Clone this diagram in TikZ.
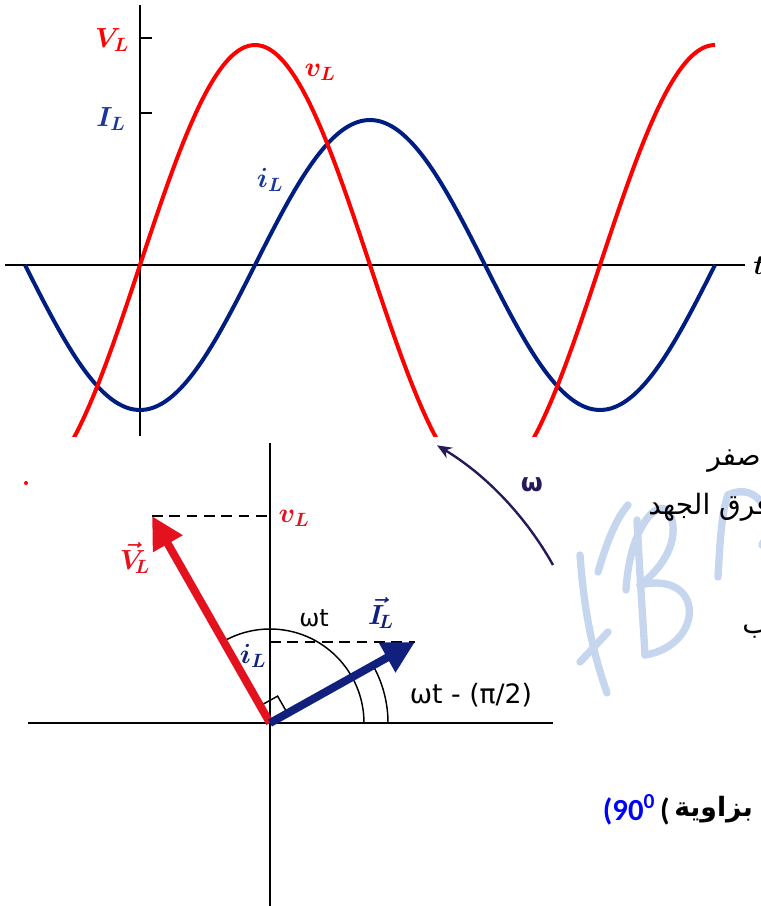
\documentclass[tikz,border=0pt]{standalone}
\usepackage{fontspec}
\usetikzlibrary{arrows.meta,calc}
\TeXXeTstate=1
\newfontfamily\arabicfont[Script=Arabic]{DejaVu Sans}
\newfontfamily\dejasans{DejaVu Sans}
\newfontfamily\calib{Carlito}
\definecolor{curvered}{RGB}{255,0,0}
\definecolor{curveblue}{RGB}{0,30,130}
\definecolor{vecred}{RGB}{228,18,30}
\definecolor{vecblue}{RGB}{18,32,125}
\definecolor{lblblue}{RGB}{25,55,155}
\definecolor{omegacol}{RGB}{40,25,90}
\definecolor{wmblue}{RGB}{197,214,238}
\tikzset{
  axis/.style={line width=1.5pt},
  wave/.style={line width=3pt, smooth, samples=160},
  phasor/.style={line width=6pt, -{Triangle[length=24pt,width=24pt]}},
  guide/.style={line width=1.1pt, dash pattern=on 8pt off 5pt},
  toplbl/.style={font=\boldmath\fontsize{22}{24}\selectfont, inner sep=0pt},
  veclbl/.style={font=\boldmath\fontsize{20}{22}\selectfont, inner sep=0pt},
  anglbl/.style={font=\dejasans\fontsize{18}{20}\selectfont, inner sep=0pt},
  artext/.style={font=\arabicfont\fontsize{21}{24}\selectfont, inner sep=0pt, anchor=west},
}
\begin{document}
\begin{tikzpicture}[x=0.75pt,y=-0.75pt]
\useasboundingbox (0,0) rectangle (760,906);

\begin{scope}[wmblue, line width=5.5pt, line cap=round]
\draw (598,572) .. controls (606,545) and (615,520) .. (628,505);
\draw (580,555) .. controls (584,610) and (592,650) .. (607,693);
\draw (580,662) -- (608,632);
\draw (637,520) .. controls (640,580) and (643,620) .. (645,655);
\draw (626,590) .. controls (630,520) and (665,490) .. (672,520) .. controls (678,545) and (660,570) .. (640,585);
\draw (640,585) .. controls (705,570) and (705,645) .. (645,655);
\draw (718,577) .. controls (720,540) and (722,510) .. (728,495);
\draw (728,495) .. controls (760,480) and (778,520) .. (762,545);
\end{scope}

% time graph
\draw[axis] (5,265) -- (745,265);
\draw[axis] (140,5) -- (140,436);
\draw[axis] (140,38) -- (152,38);
\draw[axis] (140,113) -- (152,113);
\begin{scope}
\clip (0,0) rectangle (760,436);
\draw[wave, curveblue] plot[domain=25:715] (\x,{265+145*cos((\x-140)*0.78261)});
\draw[wave, curvered] plot[domain=60:715] (\x,{265-220*sin((\x-140)*0.78261)});
\end{scope}
\node[toplbl, text=curvered] (VLmax) at (112,40) {$V_L$};
\node[toplbl, text=lblblue] (ILmax) at (111,119) {$I_L$};
\node[toplbl, text=curvered] (vLwave) at (320,72) {$v_L$};
\node[toplbl, text=lblblue] (iLwave) at (270,180) {$i_L$};
\node[toplbl, anchor=west] (tlab) at (753,266) {$t$};

% phasor diagram
\coordinate (O) at (270,723);
\coordinate (Vtip) at (152,516);
\coordinate (Itip) at (415,642);
\coordinate (wstart) at (553,565);
\draw[axis] (28,723) -- (553,723);
\draw[axis] (270,443) -- (270,906);
\fill[curvered] (26,483) circle (2);
\draw[guide] (Vtip) -- (Vtip -| O);
\draw[guide] (Itip -| O) -- (Itip);
\draw[line width=1.1pt] ($(O)+(94,0)$) arc[start angle=0, end angle=-119.5, radius=94];
\draw[line width=1.1pt] ($(O)+(118,0)$) arc[start angle=0, end angle=-29.2, radius=118];
\coordinate (ra1) at ($(O)!0.083!(Vtip)$);
\coordinate (ra2) at ($(O)!0.12!(Itip)$);
\draw[line width=1.1pt] (ra1) -- ($(ra1)+(ra2)-(O)$) -- (ra2);
\draw[phasor, vecred] (O) -- (Vtip);
\draw[phasor, vecblue] (O) -- (Itip);
\draw[omegacol, line width=1.8pt, -{Stealth[length=11pt,width=9pt]}] (wstart) arc[start angle=-29.2, end angle=-59, radius=324];

\node[veclbl, text=vecred] (vLproj) at (294,518) {$v_L$};
\node[veclbl, text=vecred] (VLvec) at (135,558) {$\vec{V}_{\!L}$};
\node[veclbl, text=vecblue] (iLproj) at (253,656) {$i_L$};
\node[veclbl, text=vecblue] (ILvec) at (381,613) {$\vec{I}_{\!L}$};
\node[anglbl] (wt) at (314,618) {ωt};
\node[anglbl, font=\dejasans\fontsize{20}{22}\selectfont] (wtlag) at (471,695) {ωt - (π/2)};
\node[font=\dejasans\bfseries\fontsize{19}{21}\selectfont, text=omegacol, inner sep=0pt] (wlab) at (532,485) {ω};

% arabic text
\node[artext] (zero) at (707,461) {\beginR صفر\endR};
\node[artext] (pdiff) at (648,507) {\beginR فرق الجهد\endR};
\node[artext] (bline) at (742,631) {\beginR ب\endR};
\node[artext, font=\arabicfont\bfseries\fontsize{20}{24}\selectfont] (angleword) at (674,810) {\beginR بزاوية\endR};
\node[font=\calib\bfseries\fontsize{23}{25}\selectfont, inner sep=0pt, anchor=east] (deg) at ([xshift=-3]angleword.west) {\textcolor{blue}{(90\textsuperscript{0}}\,(};
\end{tikzpicture}
\end{document}
